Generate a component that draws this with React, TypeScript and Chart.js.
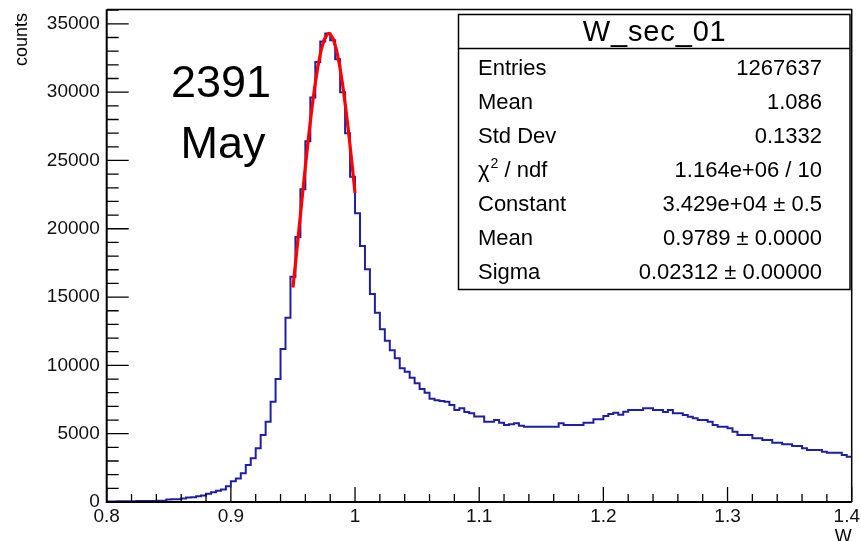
import React, { useEffect, useRef } from "react";
import { Chart, registerables } from "chart.js";

Chart.register(...registerables);

const FONT = '"Liberation Sans", Arial, Helvetica, sans-serif';

// ---- histogram binning (150 bins from 0.8 to 1.4) ----
const BIN_LOW = 0.8;
const BIN_WIDTH = 0.004;
const binCounts = [
  40, 45, 50, 55, 60, 60, 65, 70, 75, 80, 90, 100,
  190, 200, 210, 250, 330, 350, 430, 470, 600, 720, 820, 920, 1150,
  1510, 1720, 2100, 2710, 3200, 3930, 4900, 5880, 7340, 9000, 11200, 13490, 16490,
  19400, 22900, 26400, 29600, 32200, 33700, 34300, 33800, 32400, 30000, 27000, 23800,
  21130, 18740, 17030, 15230, 13860, 12640, 11810, 11100, 10520, 9790, 9540, 9100, 8700, 8280, 8000,
  7560, 7450, 7400, 7340, 7100, 6730, 6860, 6580, 6490, 6250, 6250, 5880, 5880, 6000, 5800, 5640, 5700, 5760, 5580,
  5510, 5510, 5510, 5510, 5510, 5510, 5510,
  5760,
  5640, 5640, 5640, 5640,
  5800, 5800,
  6050, 6050,
  6300, 6440, 6540, 6390, 6610,
  6730, 6730, 6730,
  6860, 6860,
  6730, 6730,
  6590, 6730,
  6490, 6490,
  6370, 6240, 6130,
  6000, 6000,
  5880, 5640,
  5510, 5510,
  5390, 5150,
  4900, 4900, 4900,
  4660, 4660,
  4540, 4540,
  4340, 4340,
  4220, 4220,
  4100, 4100,
  3930,
  3810, 3810, 3810,
  3680,
  3610, 3610, 3610,
  3440, 3320,
];

// ---- gaussian fit curve samples ----
const fitX = [
  0.95, 0.9525, 0.955, 0.9575, 0.96, 0.9625, 0.965, 0.9675, 0.97, 0.9725, 0.975,
  0.9775, 0.9789, 0.98, 0.9825, 0.985, 0.9875, 0.99, 0.9925, 0.995, 0.9975, 1.0,
];
const fitY = [
  15700, 17866, 20097, 22343, 24550, 26662, 28621, 30365, 31841, 33001, 33805,
  34227, 34290, 34251, 33877, 33117, 31998, 30557, 28842, 26907, 24810, 22610,
];

// ---- axes ----
const X_MIN = 0.8;
const X_MAX = 1.4;
const X_MAJOR = 0.1;
const X_MINOR = 0.02;
const Y_MIN = 0;
const Y_MAX = 36050;
const Y_MAJOR = 5000;
const Y_MINOR = 1000;
const xTickValues = [0.8, 0.9, 1.0, 1.1, 1.2, 1.3, 1.4];
const xTickLabels = ["0.8", "0.9", "1", "1.1", "1.2", "1.3", "1.4"];
const yTickValues = [0, 5000, 10000, 15000, 20000, 25000, 30000, 35000];
const yTickLabels = ["0", "5000", "10000", "15000", "20000", "25000", "30000", "35000"];
const xAxisTitle = "W";
const yAxisTitle = "counts";

// ---- stats box ----
const histTitle = "W_sec_01";
const statLabels = ["Entries", "Mean", "Std Dev", "CHI2", "Constant", "Mean", "Sigma"];
const statValues = [
  "1267637",
  "1.086",
  "0.1332",
  "1.164e+06 / 10",
  "3.429e+04 \u00b1 0.5",
  "0.9789 \u00b1 0.0000",
  "0.02312 \u00b1 0.00000",
];
const runLabel = ["2391", "May"];

const TICK_FONT = `19px ${FONT}`;

const rootPlugin = {
  id: "rootStyle",
  afterDatasetsDraw(chart: any) {
    const { ctx, chartArea: a, scales, width } = chart;
    const x = scales.x;
    const y = scales.y;
    ctx.save();
    // inward ticks
    ctx.strokeStyle = "#000";
    ctx.lineWidth = 1.3;
    ctx.beginPath();
    const nY = Math.floor(Y_MAX / Y_MINOR);
    const yRatio = Math.round(Y_MAJOR / Y_MINOR);
    for (let k = 0; k <= nY; k++) {
      const py = y.getPixelForValue(k * Y_MINOR);
      const len = k % yRatio === 0 ? 22 : 12;
      ctx.moveTo(a.left, py);
      ctx.lineTo(a.left + len, py);
    }
    const nX = Math.round((X_MAX - X_MIN) / X_MINOR);
    const xRatio = Math.round(X_MAJOR / X_MINOR);
    for (let k = 0; k <= nX; k++) {
      const px = x.getPixelForValue(X_MIN + k * X_MINOR);
      const len = k % xRatio === 0 ? 15 : 8;
      ctx.moveTo(px, a.bottom);
      ctx.lineTo(px, a.bottom - len);
    }
    ctx.stroke();
    // frame
    ctx.lineWidth = 1.5;
    ctx.beginPath();
    ctx.moveTo(a.left, a.top);
    ctx.lineTo(a.right, a.top);
    ctx.lineTo(a.right, a.bottom);
    ctx.stroke();
    ctx.lineWidth = 2;
    ctx.beginPath();
    ctx.moveTo(a.left, a.top);
    ctx.lineTo(a.left, a.bottom);
    ctx.lineTo(a.right, a.bottom);
    ctx.stroke();

    // x tick labels (kept inside the canvas like ROOT does)
    ctx.fillStyle = "#111";
    ctx.font = TICK_FONT;
    ctx.textBaseline = "top";
    ctx.textAlign = "left";
    xTickValues.forEach((v, i) => {
      const px = x.getPixelForValue(v);
      const w = ctx.measureText(xTickLabels[i]).width;
      let left = px - w / 2;
      if (left + w > width - 1) left = width - 1 - w;
      ctx.fillText(xTickLabels[i], left, a.bottom + 5);
    });
    ctx.restore();
  },
  afterDraw(chart: any) {
    const { ctx, chartArea: a } = chart;
    ctx.save();
    ctx.fillStyle = "#000";
    // axis titles
    ctx.font = `18px ${FONT}`;
    ctx.textAlign = "right";
    ctx.textBaseline = "alphabetic";
    ctx.fillText(xAxisTitle, a.right, 542);
    ctx.save();
    ctx.translate(27, 13);
    ctx.rotate(-Math.PI / 2);
    ctx.textAlign = "right";
    ctx.fillText(yAxisTitle, 0, 0);
    ctx.restore();

    // run label
    ctx.font = `45px ${FONT}`;
    ctx.textAlign = "center";
    ctx.fillText(runLabel[0], 221, 96.5);
    ctx.fillText(runLabel[1], 223, 158);

    // stats box
    const bx = 458.5, by = 14.5, bw = 391.5, bh = 275;
    ctx.fillStyle = "#fff";
    ctx.fillRect(bx, by, bw, bh);
    ctx.strokeStyle = "#000";
    ctx.lineWidth = 1.5;
    ctx.strokeRect(bx, by, bw, bh);
    ctx.beginPath();
    ctx.moveTo(bx, 48.5);
    ctx.lineTo(bx + bw, 48.5);
    ctx.stroke();

    ctx.fillStyle = "#000";
    ctx.font = `29px ${FONT}`;
    const tw = ctx.measureText(histTitle).width;
    const target = 143;
    const n = histTitle.length;
    const extra = Math.max(0, (target - tw) / (n - 1));
    (ctx as any).letterSpacing = `${extra}px`;
    ctx.textAlign = "left";
    ctx.fillText(histTitle, bx + bw / 2 - target / 2, 41);
    (ctx as any).letterSpacing = "0px";

    ctx.font = `22px ${FONT}`;
    for (let i = 0; i < statLabels.length; i++) {
      const base = 75 + 34 * i;
      ctx.textAlign = "left";
      if (statLabels[i] === "CHI2") {
        let cx = 478;
        ctx.font = `22px ${FONT}`;
        ctx.fillText("\u03c7", cx, base);
        cx += ctx.measureText("\u03c7").width + 1;
        ctx.font = `14px ${FONT}`;
        ctx.fillText("2", cx, base - 9);
        cx += ctx.measureText("2").width;
        ctx.font = `22px ${FONT}`;
        ctx.fillText(" / ndf", cx, base);
      } else {
        ctx.fillText(statLabels[i], 478, base);
      }
      ctx.textAlign = "right";
      ctx.fillText(statValues[i], 822, base);
    }
    ctx.restore();
  },
};

export default function App() {
  const ref = useRef<HTMLCanvasElement | null>(null);

  useEffect(() => {
    if (!ref.current) return;
    const histPoints = [];
    for (let i = 0; i <= binCounts.length; i++) {
      histPoints.push({
        x: BIN_LOW + i * BIN_WIDTH,
        y: binCounts[Math.min(i, binCounts.length - 1)],
      });
    }
    const fitPoints = fitX.map((v, i) => ({ x: v, y: fitY[i] }));

    const chart = new Chart(ref.current, {
      type: "line",
      data: {
        datasets: [
          {
            label: "fit",
            data: fitPoints,
            borderColor: "#ff0000",
            borderWidth: 3.2,
            pointRadius: 0,
            tension: 0,
            fill: false,
            order: 0,
          },
          {
            label: histTitle,
            data: histPoints,
            borderColor: "#1f1fa3",
            borderWidth: 2,
            pointRadius: 0,
            stepped: "before",
            fill: false,
            borderJoinStyle: "miter",
            order: 1,
          },
        ],
      },
      options: {
        animation: false,
        responsive: false,
        devicePixelRatio: 1,
        layout: { padding: { top: 9.5, right: 9.3, left: 0, bottom: 0 } },
        plugins: { legend: { display: false }, tooltip: { enabled: false } },
        scales: {
          x: {
            type: "linear",
            min: X_MIN,
            max: X_MAX,
            grid: { display: false, drawTicks: false },
            border: { display: false },
            ticks: { display: false },
            afterBuildTicks: (s: any) => {
              s.ticks = xTickValues.map((v) => ({ value: v }));
            },
            afterFit: (s: any) => {
              s.height = 39;
              s.paddingLeft = 0;
              s.paddingRight = 0;
            },
          },
          y: {
            type: "linear",
            min: Y_MIN,
            max: Y_MAX,
            grid: { display: false, drawTicks: false },
            border: { display: false },
            ticks: {
              autoSkip: false,
              padding: 7,
              color: "#111",
              font: { family: FONT, size: 19 },
              callback: (v: any) => {
                const idx = yTickValues.indexOf(Number(v));
                return idx >= 0 ? yTickLabels[idx] : "";
              },
            },
            afterBuildTicks: (s: any) => {
              s.ticks = yTickValues.map((v) => ({ value: v }));
            },
            afterFit: (s: any) => {
              s.width = 106.7;
              s.paddingTop = 0;
              s.paddingBottom = 0;
            },
          },
        },
      },
      plugins: [rootPlugin],
    });
    return () => chart.destroy();
  }, []);

  return (
    <div style={{ position: "absolute", left: 0, top: 0, width: 861, height: 541, background: "#fff" }}>
      <canvas ref={ref} width={861} height={541} style={{ display: "block" }} />
    </div>
  );
}
